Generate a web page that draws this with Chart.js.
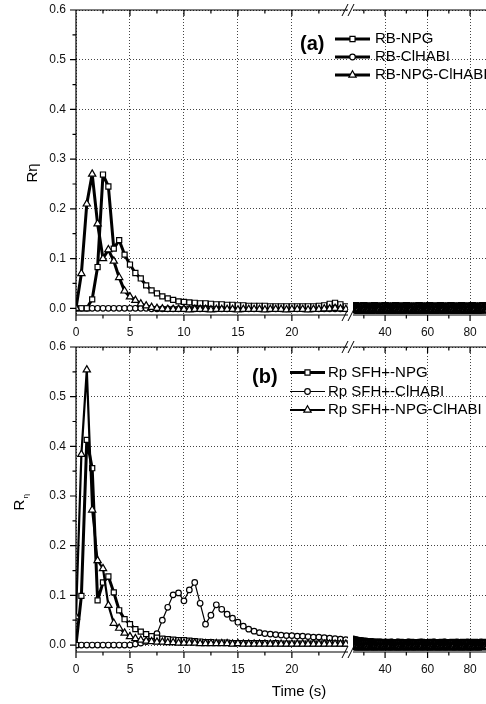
<!DOCTYPE html>
<html>
<head>
<meta charset="utf-8">
<script src="https://cdn.jsdelivr.net/npm/chart.js@4.4.1/dist/chart.umd.min.js"></script>
<style>
  body { margin: 0; background: #fff; }
  #page { position: relative; width: 486px; height: 704px; overflow: hidden; }
  #page canvas { position: absolute; }
</style>
</head>
<body>
<div id="page">
  <canvas id="aLeft" width="352" height="345" style="left:0;top:0"></canvas>
  <canvas id="aRight" width="246" height="345" style="left:240px;top:0"></canvas>
  <canvas id="bLeft" width="352" height="367" style="left:0;top:337px"></canvas>
  <canvas id="bRight" width="246" height="367" style="left:240px;top:337px"></canvas>
</div>
<script>
// time axis (s): left part of the broken axis, then the long tail
const leftTimes = [0,0.5,1,1.5,2,2.5,3,3.5,4,4.5,5,5.5,6,6.5,7,7.5,8,8.5,9,9.5,10,10.5,11,11.5,12,12.5,13,13.5,14,14.5,15,15.5,16,16.5,17,17.5,18,18.5,19,19.5,20,20.5,21,21.5,22,22.5,23,23.5,24,24.5,25];
const rightTimes = [25,26,27,28,29,30,31,32,33,34,35,36,37,38,39,40,41,42,43,44,45,46,47,48,49,50,51,52,53,54,55,56,57,58,59,60,61,62,63,64,65,66,67,68,69,70,71,72,73,74,75,76,77,78,79,80,81,82,83,84,85,86,87,88];

// panel (a)
const labelsA = ['RB-NPG', 'RB-ClHABI', 'RB-NPG-ClHABI'];
const npgA = [0,0,0,0.018,0.083,0.269,0.245,0.12,0.137,0.108,
  0.088,0.071,0.06,0.046,0.036,0.03,0.024,0.02,0.017,0.014,
  0.013,0.012,0.011,0.01,0.01,0.009,0.008,0.008,0.007,0.007,
  0.006,0.006,0.005,0.005,0.005,0.005,0.004,0.004,0.004,0.004,
  0.004,0.004,0.004,0.004,0.004,0.005,0.006,0.009,0.011,0.008,
  0.004];
const clhabiA = [0,0,0,0,0,0,0,0,0,0,
  0,0,0,0,-0.001,-0.001,-0.001,-0.001,-0.001,-0.001,
  -0.001,-0.001,-0.001,-0.001,-0.001,-0.001,-0.001,-0.001,-0.001,-0.001,
  -0.001,-0.001,-0.001,-0.001,-0.001,-0.001,-0.001,-0.001,-0.001,-0.001,
  -0.001,-0.001,-0.001,-0.001,-0.001,-0.001,-0.001,-0.001,-0.001,-0.001,
  -0.001];
const npgClA = [0,0.07,0.21,0.27,0.17,0.1,0.118,0.095,0.062,0.035,
  0.023,0.016,0.009,0.005,0.002,0,-0.001,-0.002,-0.002,-0.002,
  -0.002,-0.003,-0.002,-0.002,-0.002,-0.003,-0.002,-0.002,-0.002,-0.002,
  -0.003,-0.002,-0.002,-0.002,-0.002,-0.003,-0.002,-0.002,-0.002,-0.003,
  -0.002,-0.002,-0.002,-0.003,-0.002,-0.002,-0.001,-0.001,0,-0.001,
  -0.002];
const npgARight = [0.004,0.005,0.004,0.003,0.004,0.005,0.004,0.004,0.003,0.004,
  0.005,0.004,0.003,0.004,0.004,0.005,0.004,0.003,0.004,0.004,
  0.005,0.004,0.004,0.003,0.004,0.005,0.004,0.004,0.003,0.004,
  0.004,0.005,0.004,0.003,0.004,0.004,0.005,0.004,0.003,0.004,
  0.004,0.005,0.004,0.004,0.003,0.004,0.005,0.004,0.003,0.004,
  0.004,0.005,0.004,0.003,0.004,0.004,0.005,0.004,0.004,0.003,
  0.004,0.005,0.004,0.004];
const clhabiARight = [0.001,0,-0.001,0,0.001,0,0,-0.001,0.001,0,
  -0.001,0,0.001,0,0,-0.001,0,0.001,0,-0.001,
  0,0.001,0,0,-0.001,0,0.001,0,-0.001,0,
  0.001,0,0,-0.001,0,0.001,0,-0.001,0,0.001,
  0,0,-0.001,0,0.001,0,-0.001,0,0,0.001,
  0,-0.001,0,0.001,0,0,-0.001,0,0.001,0,
  -0.001,0,0.001,0];
const npgClARight = [-0.003,-0.004,-0.003,-0.005,-0.004,-0.003,-0.004,-0.004,-0.005,-0.003,
  -0.004,-0.004,-0.003,-0.005,-0.004,-0.004,-0.003,-0.004,-0.005,-0.004,
  -0.003,-0.004,-0.004,-0.005,-0.003,-0.004,-0.004,-0.003,-0.005,-0.004,
  -0.004,-0.003,-0.004,-0.005,-0.004,-0.003,-0.004,-0.004,-0.005,-0.003,
  -0.004,-0.004,-0.003,-0.005,-0.004,-0.004,-0.003,-0.004,-0.005,-0.004,
  -0.003,-0.004,-0.004,-0.005,-0.003,-0.004,-0.004,-0.003,-0.005,-0.004,
  -0.004,-0.003,-0.004,-0.004];

// panel (b)
const labelsB = ['Rp SFH+-NPG', 'Rp SFH+-ClHABI', 'Rp SFH+-NPG-ClHABI'];
const npgB = [0,0.099,0.413,0.356,0.09,0.126,0.138,0.106,0.07,0.052,
  0.042,0.032,0.027,0.022,0.018,0.015,0.013,0.012,0.011,0.01,
  0.01,0.009,0.008,0.007,0.006,0.006,0.005,0.005,0.005,0.004,
  0.004,0.004,0.004,0.004,0.004,0.004,0.003,0.004,0.003,0.003,
  0.003,0.003,0.003,0.003,0.003,0.003,0.003,0.004,0.003,0.003,
  0.003];
const clhabiB = [0,0,0,0,0,0,0,0,0,0,
  0,0.002,0.004,0.007,0.012,0.023,0.05,0.076,0.101,0.105,
  0.089,0.111,0.126,0.084,0.042,0.06,0.081,0.072,0.062,0.054,
  0.046,0.038,0.032,0.028,0.025,0.023,0.022,0.021,0.02,0.019,
  0.019,0.018,0.018,0.017,0.016,0.016,0.015,0.014,0.013,0.012,
  0.011];
const npgClB = [0.057,0.384,0.554,0.272,0.17,0.154,0.08,0.044,0.034,0.024,
  0.017,0.013,0.01,0.008,0.007,0.006,0.006,0.005,0.005,0.004,
  0.004,0.004,0.004,0.003,0.003,0.003,0.003,0.003,0.003,0.002,
  0.003,0.002,0.002,0.002,0.002,0.002,0.002,0.002,0.002,0.002,
  0.002,0.002,0.002,0.002,0.002,0.002,0.002,0.002,0.002,0.002,
  0.002];
const npgBRight = [0.003,0.004,0.005,0.004,0.003,0.004,0.004,0.005,0.003,0.004,
  0.004,0.003,0.005,0.004,0.004,0.003,0.004,0.005,0.004,0.003,
  0.004,0.004,0.005,0.003,0.004,0.004,0.003,0.005,0.004,0.004,
  0.003,0.004,0.005,0.004,0.003,0.004,0.004,0.005,0.003,0.004,
  0.004,0.003,0.005,0.004,0.004,0.003,0.004,0.005,0.004,0.003,
  0.004,0.004,0.005,0.003,0.004,0.004,0.003,0.005,0.004,0.004,
  0.003,0.004,0.005,0.004];
const clhabiBRight = [0.011,0.01,0.009,0.008,0.008,0.007,0.007,0.006,0.006,0.006,
  0.005,0.005,0.005,0.005,0.004,0.005,0.004,0.004,0.005,0.004,
  0.004,0.005,0.004,0.004,0.003,0.004,0.005,0.004,0.004,0.003,
  0.004,0.004,0.005,0.004,0.003,0.004,0.004,0.004,0.005,0.004,
  0.003,0.004,0.004,0.005,0.004,0.004,0.003,0.004,0.004,0.005,
  0.004,0.003,0.004,0.004,0.005,0.004,0.004,0.003,0.004,0.004,
  0.005,0.004,0.003,0.004];
const npgClBRight = [-0.004,-0.003,-0.004,-0.005,-0.004,-0.004,-0.003,-0.004,-0.005,-0.004,
  -0.003,-0.004,-0.004,-0.005,-0.003,-0.004,-0.004,-0.003,-0.005,-0.004,
  -0.004,-0.003,-0.004,-0.005,-0.004,-0.003,-0.004,-0.004,-0.005,-0.003,
  -0.004,-0.004,-0.003,-0.005,-0.004,-0.004,-0.003,-0.004,-0.005,-0.004,
  -0.003,-0.004,-0.004,-0.005,-0.003,-0.004,-0.004,-0.003,-0.005,-0.004,
  -0.004,-0.003,-0.004,-0.005,-0.004,-0.003,-0.004,-0.004,-0.005,-0.003,
  -0.004,-0.004,-0.003,-0.004];

// tick positions
const yTicks = [0, 0.1, 0.2, 0.3, 0.4, 0.5, 0.6];
const yMinorTicks = [0.05, 0.15, 0.25, 0.35, 0.45, 0.55];
const leftTicks = [0, 5, 10, 15, 20];
const leftMinorTicks = [2.5, 7.5, 12.5, 17.5, 22.5];
const rightTicks = [40, 60, 80];
const rightMinorTicks = [30, 50, 70];

const FONT = 'Arial, "Liberation Sans", sans-serif';

function points(times, values) {
  return times.map((t, i) => ({ x: t, y: values[i] }));
}

// markerEdge: outline width of the symbols (the dense tail merges into a solid band)
function buildDatasets(labels, times, seriesList, lineWidths, markerEdge) {
  const shapes = ['rect', 'circle', 'triangle'];
  const radii = [3.6, 2.8, 4.2];
  const orders = [1, 2, 0];
  return seriesList.map((vals, i) => ({
    label: labels[i],
    data: points(times, vals),
    borderColor: '#000',
    borderWidth: lineWidths[i],
    borderJoinStyle: 'round',
    pointStyle: shapes[i],
    pointRadius: radii[i],
    pointBorderWidth: markerEdge,
    pointBackgroundColor: '#fff',
    pointBorderColor: '#000',
    tension: 0,
    order: orders[i]
  }));
}

function drawKey(chart, key) {
  const ctx = chart.ctx;
  ctx.fillStyle = '#000';
  ctx.textAlign = 'left';
  ctx.textBaseline = 'middle';
  ctx.font = 'bold 20px ' + FONT;
  ctx.fillText(key.tag, key.tagX, key.tagY);
  ctx.font = '15px ' + FONT;
  chart.data.datasets.forEach((ds, i) => {
    const yy = key.rows[i];
    ctx.strokeStyle = '#000';
    ctx.lineWidth = ds.borderWidth;
    ctx.beginPath();
    ctx.moveTo(key.x0, yy);
    ctx.lineTo(key.x1, yy);
    ctx.stroke();
    ctx.fillStyle = '#fff';
    ctx.lineWidth = 1.2;
    Chart.helpers.drawPoint(ctx, { pointStyle: ds.pointStyle, radius: ds.pointRadius, borderWidth: 1.2, rotation: 0 }, (key.x0 + key.x1) / 2, yy);
    ctx.fillStyle = '#000';
    ctx.fillText(ds.label, key.textX, yy);
  });
}

function framePlugin(spec) {
  return {
    id: 'frame',
    afterDraw(chart) {
      const { ctx, chartArea: a } = chart;
      const sx = chart.scales.x, sy = chart.scales.y;
      ctx.save();
      ctx.strokeStyle = '#000';
      ctx.lineWidth = 1.2;
      ctx.beginPath();
      ctx.moveTo(a.left, a.top); ctx.lineTo(a.right, a.top);
      ctx.moveTo(a.left, a.bottom); ctx.lineTo(a.right, a.bottom);
      [[spec.xMajor, 6], [spec.xMinor, 3.5]].forEach(([vals, len]) => vals.forEach(v => {
        const p = sx.getPixelForValue(v);
        ctx.moveTo(p, a.bottom); ctx.lineTo(p, a.bottom + len);
        ctx.moveTo(p, a.top); ctx.lineTo(p, a.top + len);
      }));
      if (spec.yAxis) {
        ctx.moveTo(a.left, a.top); ctx.lineTo(a.left, a.bottom);
        [[yTicks, 6], [yMinorTicks, 3.5]].forEach(([vals, len]) => vals.forEach(v => {
          const p = sy.getPixelForValue(v);
          ctx.moveTo(a.left - len, p); ctx.lineTo(a.left, p);
        }));
      }
      ctx.stroke();

      if (spec.broken) {
        // "//" marks where the time axis is cut
        ctx.lineWidth = 1;
        ctx.beginPath();
        const c = a.left - 5;
        [a.top, a.bottom].forEach(yy => [-3, 3].forEach(k => {
          ctx.moveTo(c + k - 3, yy + 6);
          ctx.lineTo(c + k + 3, yy - 6);
        }));
        ctx.stroke();
      }

      if (spec.key) drawKey(chart, spec.key);

      ctx.fillStyle = '#000';
      if (spec.yTitle) {
        const t = spec.yTitle;
        ctx.save();
        ctx.translate(t.x, t.y);
        ctx.rotate(-Math.PI / 2);
        ctx.font = '15px ' + FONT;
        ctx.textAlign = 'center';
        ctx.textBaseline = 'middle';
        ctx.fillText(t.text, 0, 0);
        if (t.sub) {
          const w = ctx.measureText(t.text).width;
          ctx.font = '8px ' + FONT;
          ctx.textAlign = 'left';
          ctx.fillText(t.sub, w / 2 + 1, 6);
        }
        ctx.restore();
      }
      if (spec.xTitle) {
        ctx.font = '15px ' + FONT;
        ctx.textAlign = 'center';
        ctx.textBaseline = 'middle';
        ctx.fillText(spec.xTitle.text, spec.xTitle.x, spec.xTitle.y);
      }
      ctx.restore();
    }
  };
}

// keep tick labels from pushing the plot area inwards
function noLabelPadding(s) {
  s.paddingTop = 0; s.paddingBottom = 0; s.paddingLeft = 0; s.paddingRight = 0;
}

function makeChart(id, cfg) {
  const gridOpts = { color: '#444', lineWidth: 1, drawTicks: false };
  return new Chart(document.getElementById(id), {
    type: 'line',
    data: { datasets: cfg.datasets },
    options: {
      responsive: false,
      animation: false,
      layout: { padding: cfg.padding, autoPadding: false },
      plugins: { legend: { display: false }, tooltip: { enabled: false } },
      scales: {
        x: {
          type: 'linear',
          min: cfg.xMin,
          max: cfg.xMax,
          afterBuildTicks: s => { s.ticks = cfg.xTicks.map(v => ({ value: v })); },
          afterFit: s => { s.height = cfg.xHeight; noLabelPadding(s); },
          grid: gridOpts,
          border: { display: false, dash: [1, 2] },
          ticks: { padding: 10, color: '#111', font: { family: FONT, size: 12 }, maxRotation: 0, callback: v => String(v) }
        },
        y: {
          type: 'linear',
          min: cfg.yMin,
          max: 0.6,
          afterBuildTicks: s => { s.ticks = yTicks.map(v => ({ value: v })); },
          afterFit: s => { s.width = cfg.yWidth; noLabelPadding(s); },
          grid: gridOpts,
          border: { display: false, dash: [1, 2] },
          ticks: { display: cfg.yLabels, padding: 10, color: '#111', font: { family: FONT, size: 12 }, callback: v => v.toFixed(1) }
        }
      }
    },
    plugins: [framePlugin(cfg.frame)]
  });
}

// panel (a)
makeChart('aLeft', {
  datasets: buildDatasets(labelsA, leftTimes, [npgA, clhabiA, npgClA], [3, 3, 3], 1.2),
  padding: { top: 10, right: 4, left: 0, bottom: 0 },
  xMin: 0, xMax: 25.2, xTicks: leftTicks, xHeight: 30,
  yMin: -0.0135, yWidth: 76, yLabels: true,
  frame: { xMajor: leftTicks, xMinor: leftMinorTicks, yAxis: true, yTitle: { text: 'Rη', x: 33, y: 173 } }
});
makeChart('aRight', {
  datasets: buildDatasets(labelsA, rightTimes, [npgARight, clhabiARight, npgClARight], [3, 3, 3], 2.4),
  padding: { top: 10, right: 0, left: 113, bottom: 0 },
  xMin: 24.9, xMax: 87.5, xTicks: rightTicks, xHeight: 30,
  yMin: -0.0135, yWidth: 0, yLabels: false,
  frame: { xMajor: rightTicks, xMinor: rightMinorTicks, broken: true,
    key: { tag: '(a)', tagX: 60, tagY: 44, x0: 95, x1: 130, textX: 135, rows: [39, 57, 75] } }
});

// panel (b)
makeChart('bLeft', {
  datasets: buildDatasets(labelsB, leftTimes, [npgB, clhabiB, npgClB], [3, 1.2, 2.2], 1.2),
  padding: { top: 10, right: 4, left: 0, bottom: 0 },
  xMin: 0, xMax: 25.2, xTicks: leftTicks, xHeight: 52,
  yMin: -0.014, yWidth: 76, yLabels: true,
  frame: { xMajor: leftTicks, xMinor: leftMinorTicks, yAxis: true,
    yTitle: { text: 'R', sub: 'η', x: 20, y: 168 },
    xTitle: { text: 'Time (s)', x: 299, y: 355 } }
});
makeChart('bRight', {
  datasets: buildDatasets(labelsB, rightTimes, [npgBRight, clhabiBRight, npgClBRight], [3, 1.2, 2.2], 2.4),
  padding: { top: 10, right: 0, left: 113, bottom: 0 },
  xMin: 24.9, xMax: 87.5, xTicks: rightTicks, xHeight: 52,
  yMin: -0.014, yWidth: 0, yLabels: false,
  frame: { xMajor: rightTicks, xMinor: rightMinorTicks, broken: true,
    key: { tag: '(b)', tagX: 12, tagY: 40, x0: 50, x1: 85, textX: 88, rows: [35.5, 54.5, 73] } }
});
</script>
</body>
</html>
